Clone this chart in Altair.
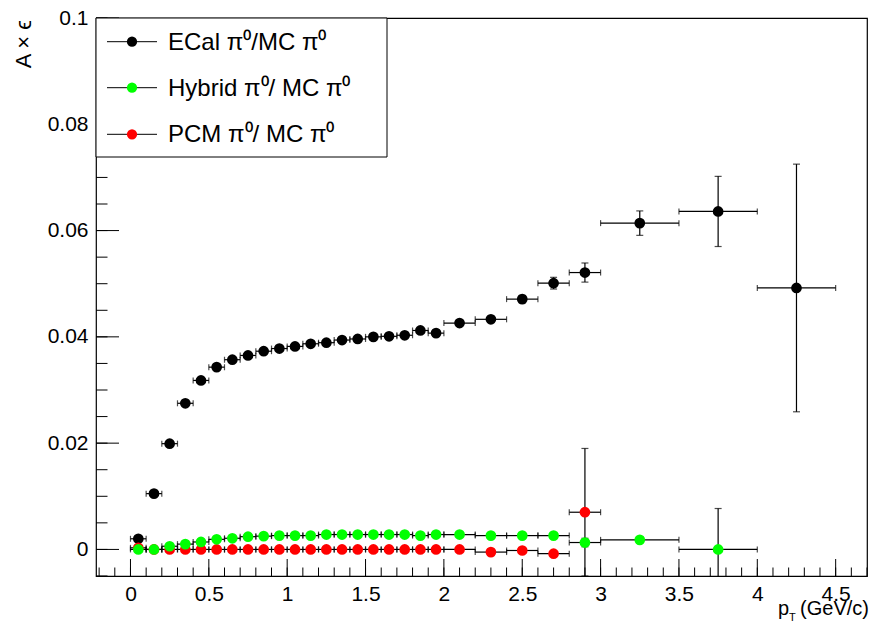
import altair as alt
import pandas as pd
import numpy as np

# bin edges / centers (GeV/c)
bin_edges = [0.0, 0.1, 0.2, 0.3, 0.4, 0.5, 0.6, 0.7, 0.8, 0.9, 1.0, 1.1, 1.2, 1.3, 1.4,
             1.5, 1.6, 1.7, 1.8, 1.9, 2.0, 2.2, 2.4, 2.6, 2.8, 3.0, 3.5, 4.0, 4.5]
pt_centers = [0.05, 0.15, 0.25, 0.35, 0.45, 0.55, 0.65, 0.75, 0.85, 0.95, 1.05, 1.15, 1.25, 1.35,
              1.45, 1.55, 1.65, 1.75, 1.85, 1.95, 2.1, 2.3, 2.5, 2.7, 2.9, 3.25, 3.75, 4.25]

ecal_y = [0.0020, 0.0105, 0.0199, 0.0275, 0.0318, 0.0343, 0.0357, 0.0365, 0.0373, 0.0378,
          0.0382, 0.0387, 0.0389, 0.0394, 0.0396, 0.0400, 0.0401, 0.0403, 0.0412, 0.0407,
          0.0426, 0.0433, 0.0471, 0.0501, 0.0521, 0.0614, 0.0636, 0.0492]
ecal_err = [0.0002, 0.0002, 0.0002, 0.0002, 0.0002, 0.0002, 0.0002, 0.0002, 0.0002, 0.0002,
            0.0002, 0.0002, 0.0002, 0.0002, 0.0002, 0.0002, 0.0002, 0.0002, 0.0002, 0.0002,
            0.0003, 0.0004, 0.0007, 0.0011, 0.0018, 0.0023, 0.0066, 0.0233]

hyb_y = [0.0, 0.0, 0.0006, 0.0010, 0.0014, 0.0019, 0.0021, 0.0024, 0.0025, 0.0026,
         0.0026, 0.0026, 0.0028, 0.0028, 0.0028, 0.0028, 0.0028, 0.0028, 0.0026, 0.0028,
         0.0028, 0.0026, 0.0026, 0.0026, 0.0013, 0.0018, 0.0]
hyb_err = [0.0001, 0.0001, 0.0001, 0.0001, 0.0001, 0.0001, 0.0001, 0.0001, 0.0001, 0.0001,
           0.0001, 0.0001, 0.0001, 0.0001, 0.0001, 0.0001, 0.0001, 0.0001, 0.0001, 0.0001,
           0.0001, 0.0001, 0.0001, 0.0001, 0.0008, 0.0005, 0.0077]

pcm_y = [0.0003, 0.0, 0.0, 0.0, 0.0, 0.0, 0.0, 0.0, 0.0, 0.0,
         0.0, 0.0, 0.0, 0.0, 0.0, 0.0, 0.0, 0.0, 0.0, 0.0,
         0.0, -0.0005, -0.0002, -0.0008, 0.0070]
pcm_err = [0.0001, 0.0001, 0.0001, 0.0001, 0.0001, 0.0001, 0.0001, 0.0001, 0.0001, 0.0001,
           0.0001, 0.0001, 0.0001, 0.0001, 0.0001, 0.0001, 0.0001, 0.0001, 0.0001, 0.0001,
           0.0001, 0.0001, 0.0001, 0.0001, 0.0120]

series_names = ["ECal", "PCM", "Hybrid"]
series_colors = ["#000000", "#ff0000", "#00ff00"]
legend_labels = ["ECal π⁰/MC π⁰", "Hybrid π⁰/ MC π⁰", "PCM π⁰/ MC π⁰"]
legend_colors = ["#000000", "#00ff00", "#ff0000"]

x_major = [0, 0.5, 1, 1.5, 2, 2.5, 3, 3.5, 4, 4.5]
y_major = [0, 0.02, 0.04, 0.06, 0.08, 0.1]

rows = []
for name, ys, es in [("ECal", ecal_y, ecal_err), ("PCM", pcm_y, pcm_err), ("Hybrid", hyb_y, hyb_err)]:
    for i, (yv, ev) in enumerate(zip(ys, es)):
        rows.append(dict(series=name, x=pt_centers[i], lo=bin_edges[i], hi=bin_edges[i + 1],
                         y=yv, ylo=yv - ev, yhi=yv + ev, order=series_names.index(name)))
df = pd.DataFrame(rows)

W, H = 771, 558
FONT = "Liberation Sans"
xs = alt.Scale(domain=[-0.22, 4.7], nice=False, zero=False)
ys_ = alt.Scale(domain=[-0.005, 0.1], nice=False, zero=False)
XA = alt.Axis(values=x_major, ticks=False, domain=False, grid=False, labelFontSize=21,
              labelFont=FONT, labelColor="black", labelPadding=7, format="~g", title=None)
YA = alt.Axis(values=y_major, ticks=False, domain=False, grid=False, labelFontSize=21,
              labelFont=FONT, labelColor="black", labelPadding=8, format=".2~f", title=None)
col = alt.Color("series:N", scale=alt.Scale(domain=series_names, range=series_colors), legend=None)


def X(f):
    return alt.X(f, scale=xs, axis=XA)


def Y(f):
    return alt.Y(f, scale=ys_, axis=YA)


base = alt.Chart(df)
lw = 1.2
hbar = base.mark_rule(color="black", strokeWidth=lw, clip=True).encode(
    x=X("lo:Q"), x2="hi:Q", y=Y("y:Q"))
hcap_l = base.mark_tick(color="black", orient="vertical", size=6, thickness=lw, clip=True).encode(
    x=X("lo:Q"), y=Y("y:Q"))
hcap_r = base.mark_tick(color="black", orient="vertical", size=6, thickness=lw, clip=True).encode(
    x=X("hi:Q"), y=Y("y:Q"))
vbar = base.mark_rule(color="black", strokeWidth=lw, clip=True).encode(
    x=X("x:Q"), y=Y("ylo:Q"), y2="yhi:Q")
vcap_l = base.mark_tick(color="black", orient="horizontal", size=7, thickness=lw, clip=True).encode(
    x=X("x:Q"), y=Y("ylo:Q"))
vcap_h = base.mark_tick(color="black", orient="horizontal", size=7, thickness=lw, clip=True).encode(
    x=X("x:Q"), y=Y("yhi:Q"))

pts = base.mark_circle(size=115, opacity=1, clip=True).encode(
    x=X("x:Q"), y=Y("y:Q"), color=col, order="order:Q")

# inside ticks (ROOT style)
xmaj_df = pd.DataFrame({"v": x_major})
xmin_df = pd.DataFrame({"v": np.round(np.arange(-0.2, 4.71, 0.1), 2)})
ymaj_df = pd.DataFrame({"v": y_major})
ymin_df = pd.DataFrame({"v": np.round(np.arange(-0.005, 0.1001, 0.005), 4)})

tick_layers = [
    alt.Chart(xmaj_df).mark_rule(color="black", strokeWidth=1).encode(
        x=X("v:Q"), y=alt.value(H), y2=alt.value(H - 17)),
    alt.Chart(xmin_df).mark_rule(color="black", strokeWidth=1).encode(
        x=X("v:Q"), y=alt.value(H), y2=alt.value(H - 8.5)),
    alt.Chart(ymaj_df).mark_rule(color="black", strokeWidth=1).encode(
        y=Y("v:Q"), x=alt.value(0), x2=alt.value(23)),
    alt.Chart(ymin_df).mark_rule(color="black", strokeWidth=1).encode(
        y=Y("v:Q"), x=alt.value(0), x2=alt.value(11.5)),
]

one = pd.DataFrame({"a": [0]})
ann = []
# legend box
ann.append(alt.Chart(one).mark_rect(fill="white", stroke="black", strokeWidth=1).encode(
    x=alt.value(0), x2=alt.value(291), y=alt.value(0), y2=alt.value(139)))
row_y = [23.7, 69.7, 116.3]
for lab, c, ry in zip(legend_labels, legend_colors, row_y):
    ann.append(alt.Chart(one).mark_rule(color="black", strokeWidth=1).encode(
        x=alt.value(11), x2=alt.value(61), y=alt.value(ry)))
    ann.append(alt.Chart(one).mark_circle(size=105, opacity=1, color=c).encode(
        x=alt.value(36), y=alt.value(ry)))
    ann.append(alt.Chart(one).mark_text(text=lab, font=FONT, fontSize=24, align="left",
                                        baseline="middle", color="black").encode(
        x=alt.value(72), y=alt.value(ry + 1)))
# axis titles
ann.append(alt.Chart(one).mark_text(text="A × ϵ", font=FONT, fontSize=22, align="right",
                                    baseline="middle", angle=270, color="black").encode(
    x=alt.value(-72), y=alt.value(2)))
ann.append(alt.Chart(one).mark_text(text="(GeV/c)", font=FONT, fontSize=20, align="right",
                                    baseline="alphabetic", color="black").encode(
    x=alt.value(773), y=alt.value(597)))
ann.append(alt.Chart(one).mark_text(text="p", font=FONT, fontSize=20, align="left",
                                    baseline="alphabetic", color="black").encode(
    x=alt.value(682), y=alt.value(597)))
ann.append(alt.Chart(one).mark_text(text="T", font=FONT, fontSize=11, align="left",
                                    baseline="alphabetic", color="black").encode(
    x=alt.value(693), y=alt.value(603)))

chart = alt.layer(*tick_layers, hbar, hcap_l, hcap_r, vbar, vcap_l, vcap_h, pts, *ann).properties(
    width=W, height=H,
    autosize=alt.AutoSizeParams(type="none"),
    padding={"left": 96, "top": 18, "right": 12, "bottom": 49},
    background="white",
).configure_view(stroke="black", strokeWidth=1.2)

chart.save("out.html", embed_options={"renderer": "svg", "actions": False})
